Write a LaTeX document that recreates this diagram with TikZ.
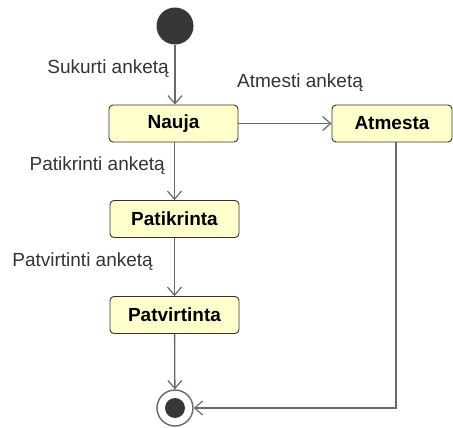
\documentclass[tikz,border=0pt]{standalone}
\usepackage{fontspec}
\setmainfont{Liberation Sans}
\usetikzlibrary{arrows.meta}
\definecolor{statefill}{RGB}{255,255,204}
\definecolor{edgegray}{RGB}{105,105,105}
\definecolor{dotgray}{RGB}{55,55,55}
\tikzset{
  state/.style={draw=black!80, line width=0.9pt, fill=statefill, rounded corners=4pt,
    minimum width=129pt, minimum height=37pt, inner sep=0pt,
    font=\fontsize{19}{21}\selectfont\bfseries},
  trans/.style={draw=edgegray, line width=1.3pt, -{Straight Barb[length=8pt,width=14pt,line width=1.2pt]}},
  lbl/.style={font=\fontsize{19}{21}\selectfont, text=black!80, inner sep=0pt},
}
\begin{document}
\begin{tikzpicture}[x=1pt,y=-1pt]
\useasboundingbox (0,0) rectangle (453,428);
% initial pseudo-state
\node[circle, fill=dotgray, minimum size=37pt, inner sep=0pt] (init) at (175,26) {};
% states
\node[state] (nauja) at (173.5,123.5) {Nauja};
\node[state, minimum width=120pt] (atmesta) at (392,123.5) {Atmesta};
\node[state] (patikrinta) at (174.5,219) {Patikrinta};
\node[state] (patvirtinta) at (174.5,315) {Patvirtinta};
% final state
\node[circle, draw=edgegray, line width=1.4pt, fill=white, minimum size=36pt, inner sep=0pt] (final) at (175,408) {};
\node[circle, fill=dotgray, minimum size=20pt, inner sep=0pt] (finaldot) at (final.center) {};
\coordinate (corner) at (396,408);
% transitions
\draw[trans] (init) -- (init |- nauja.north);
\draw[trans] (nauja) -- (atmesta);
\draw[trans] (nauja.south -| patikrinta) -- (patikrinta);
\draw[trans] (patikrinta) -- (patvirtinta);
\draw[trans] (patvirtinta) -- (final);
\draw[trans] (atmesta.south -| corner) -- (corner) -- (final);
% labels
\node[lbl, anchor=base east] (l1) at (169,74) {Sukurti anketą};
\node[lbl, anchor=base west] (l2) at (237,88) {Atmesti anketą};
\node[lbl, anchor=base east] (l3) at (165,171) {Patikrinti anketą};
\node[lbl, anchor=base east] (l4) at (153,266) {Patvirtinti anketą};
\end{tikzpicture}
\end{document}
